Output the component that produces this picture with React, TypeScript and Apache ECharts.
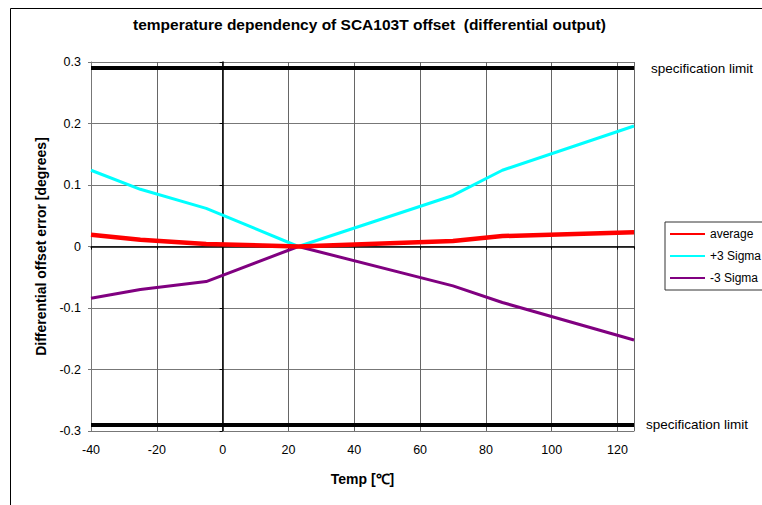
import React, { useEffect, useRef } from "react";
import * as echarts from "echarts";

const temps = [-40, -25, -5, 23, 70, 85, 125];
const average = [0.019, 0.011, 0.004, 0.0, 0.009, 0.017, 0.023];
const plus3Sigma = [0.124, 0.093, 0.062, 0.0, 0.083, 0.124, 0.196];
const minus3Sigma = [-0.084, -0.07, -0.057, 0.0, -0.064, -0.091, -0.152];
const specLimits = [0.289, -0.29];
const specLabelDistance = [17, 12];
const seriesNames = ["average", "+3 Sigma", "-3 Sigma"];

const FONT = "'Liberation Sans', Arial, sans-serif";

export default function App() {
  const ref = useRef<HTMLDivElement>(null);
  useEffect(() => {
    if (!ref.current) return;
    const chart = echarts.init(ref.current, undefined, { renderer: "svg" });
    const pair = (ys: number[]) => temps.map((t, i) => [t, ys[i]]);
    const yFmt = (v: number) => String(Math.round(v * 10) / 10);
    chart.setOption({
      animation: false,
      backgroundColor: "#fff",
      textStyle: { fontFamily: FONT },
      title: {
        text: "temperature dependency of SCA103T offset  (differential output)",
        left: 133,
        top: 16,
        padding: 0,
        textStyle: { fontFamily: FONT, fontSize: 15.5, fontWeight: "bold", color: "#000" },
      },
      graphic: [
        {
          type: "rect",
          shape: { x: 10.5, y: 8.5, width: 900, height: 900 },
          style: { fill: "none", stroke: "#000", lineWidth: 1 },
          silent: true,
        },
      ],
      legend: {
        data: seriesNames,
        orient: "vertical",
        left: 665,
        top: 222,
        padding: [6, 60, 6, 4],
        itemGap: 10,
        itemWidth: 35,
        itemHeight: 14,
        borderColor: "#333",
        borderWidth: 1,
        itemStyle: { opacity: 0 },
        textStyle: { fontFamily: FONT, fontSize: 12, color: "#000" },
      },
      grid: { left: 91, right: 128, top: 62, bottom: 74, show: false },
      xAxis: [
        {
          type: "value",
          min: -40,
          max: 125,
          interval: 20,
          position: "bottom",
          axisLine: { onZero: false, show: true, lineStyle: { color: "#777", width: 1 } },
          axisTick: { show: false },
          axisLabel: {
            showMaxLabel: false,
            margin: 12,
            color: "#000",
            fontSize: 12.5,
            fontFamily: FONT,
          },
          splitLine: { show: true, lineStyle: { color: "#666", width: 1 } },
          name: "Temp [\u2103]",
          nameLocation: "middle",
          nameGap: 41,
          nameTextStyle: { fontFamily: FONT, fontSize: 14, fontWeight: "bold", color: "#000" },
        },
        {
          type: "value",
          min: -40,
          max: 125,
          interval: 20,
          position: "bottom",
          axisLine: { onZero: true, show: true, lineStyle: { color: "#000", width: 1.5 } },
          axisTick: { show: true, length: 3, lineStyle: { color: "#000" } },
          axisLabel: { show: false },
          splitLine: { show: false },
        },
      ],
      yAxis: [
        {
          type: "value",
          min: -0.3,
          max: 0.3,
          interval: 0.1,
          position: "left",
          axisLine: { onZero: false, show: true, lineStyle: { color: "#777", width: 1 } },
          axisTick: { show: true, length: 3, lineStyle: { color: "#777" } },
          axisLabel: {
            formatter: yFmt,
            margin: 10,
            color: "#000",
            fontSize: 12.5,
            fontFamily: FONT,
          },
          splitLine: { show: true, lineStyle: { color: "#777", width: 1 } },
          name: "Differential offset error [degrees]",
          nameLocation: "middle",
          nameGap: 43,
          nameTextStyle: { fontFamily: FONT, fontSize: 14, fontWeight: "bold", color: "#000" },
        },
        {
          type: "value",
          min: -0.3,
          max: 0.3,
          interval: 0.1,
          position: "left",
          axisLine: { onZero: true, show: true, lineStyle: { color: "#000", width: 1.5 } },
          axisTick: { show: true, length: 3, lineStyle: { color: "#000" } },
          axisLabel: { show: false },
          splitLine: { show: false },
        },
      ],
      series: [
        {
          name: "spec",
          type: "line",
          data: [],
          silent: true,
          markLine: {
            silent: true,
            symbol: "none",
            lineStyle: { color: "#000", width: 4, type: "solid" },
            label: {
              show: true,
              position: "end",
              formatter: "specification limit",
              color: "#000",
              fontSize: 13.5,
              fontFamily: FONT,
            },
            data: specLimits.map((v, i) => ({
              yAxis: v,
              label: { distance: specLabelDistance[i] },
            })),
          },
        },
        {
          name: seriesNames[0],
          type: "line",
          data: pair(average),
          symbol: "none",
          color: "#ff0000",
          lineStyle: { color: "#ff0000", width: 4.5 },
          z: 4,
        },
        {
          name: seriesNames[1],
          type: "line",
          data: pair(plus3Sigma),
          symbol: "none",
          color: "#00ffff",
          lineStyle: { color: "#00ffff", width: 3 },
          z: 3,
        },
        {
          name: seriesNames[2],
          type: "line",
          data: pair(minus3Sigma),
          symbol: "none",
          color: "#800080",
          lineStyle: { color: "#800080", width: 3 },
          z: 3,
        },
      ],
    });
    return () => chart.dispose();
  }, []);
  return (
    <div
      ref={ref}
      style={{ position: "absolute", left: 0, top: 0, width: 762, height: 505 }}
    />
  );
}
